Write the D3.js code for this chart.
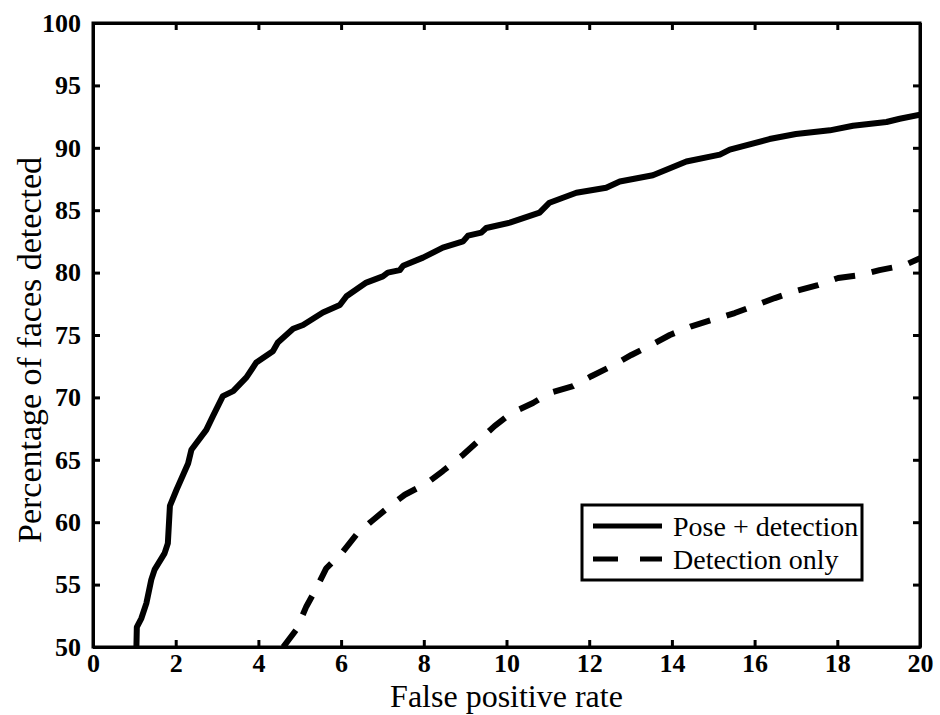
<!DOCTYPE html>
<html>
<head>
<meta charset="utf-8">
<script src="https://cdn.jsdelivr.net/npm/d3@7"></script>
<style>
  body { margin: 0; background: #fff; }
  svg { display: block; }
  svg text { font-family: "Liberation Serif", "Times New Roman", Times, "DejaVu Serif", serif; fill: #000; }
  .axis text { font-weight: bold; font-size: 26px; }
  .axis path, .axis line { stroke: #000; stroke-width: 3; }
  .title { font-size: 32px; }
  .legend-text { font-size: 28px; }
</style>
</head>
<body>
<div id="chart"></div>
<script>
// values
const poseX = [1.05, 1.06, 1.17, 1.29, 1.41, 1.49, 1.73, 1.81, 1.86, 2.02, 2.18, 2.30, 2.38, 2.74, 2.9, 3.14, 3.39, 3.71, 3.95, 4.35, 4.47, 4.84, 5.08, 5.56, 5.97, 6.13, 6.61, 7.01, 7.13, 7.42, 7.5, 7.98, 8.46, 8.95, 9.07, 9.39, 9.51, 10.08, 10.8, 11.04, 11.69, 12.41, 12.74, 13.54, 14.35, 15.16, 15.4, 16.36, 17.0, 17.82, 18.38, 19.19, 19.51, 20.0];
const poseY = [50.0, 51.6, 52.3, 53.5, 55.4, 56.2, 57.5, 58.3, 61.3, 62.6, 63.8, 64.7, 65.8, 67.4, 68.5, 70.1, 70.5, 71.6, 72.8, 73.7, 74.4, 75.5, 75.8, 76.8, 77.4, 78.1, 79.2, 79.7, 80.0, 80.2, 80.55, 81.2, 82.0, 82.5, 82.96, 83.2, 83.57, 84.0, 84.8, 85.6, 86.4, 86.8, 87.3, 87.8, 88.9, 89.45, 89.85, 90.7, 91.1, 91.4, 91.77, 92.07, 92.33, 92.65];

const detX = [4.6, 4.92, 5.16, 5.4, 5.64, 6.01, 6.37, 6.73, 7.18, 7.54, 8.06, 8.46, 8.95, 9.71, 10.12, 10.64, 11.04, 11.61, 12.05, 12.54, 13.02, 13.5, 13.95, 14.47, 14.96, 15.52, 16.0, 16.49, 16.97, 17.53, 18.02, 18.54, 19.02, 19.63, 20.0];
const detY = [50.0, 51.4, 53.25, 54.7, 56.3, 57.5, 59.0, 60.06, 61.3, 62.2, 63.1, 64.1, 65.4, 67.7, 68.75, 69.55, 70.35, 70.9, 71.7, 72.5, 73.4, 74.2, 75.0, 75.7, 76.2, 76.76, 77.35, 77.96, 78.5, 79.0, 79.57, 79.8, 80.2, 80.6, 81.15];

const xTicks = d3.range(0, 21, 2);
const yTicks = d3.range(50, 101, 5);
const seriesNames = ["Pose + detection", "Detection only"];

const width = 940, height = 715;
const margin = ({top: 23, right: 20, bottom: 68, left: 93});

const svg = d3.select("#chart").append("svg")
    .attr("width", width)
    .attr("height", height);

let x = d3.scaleLinear().domain([0, 20]).range([margin.left, width - margin.right]);
let y = d3.scaleLinear().domain([50, 100]).range([height - margin.bottom, margin.top]);

let line = d3.line()
    .x(d => x(d[0]))
    .y(d => y(d[1]));

let series = [
    {name: seriesNames[0], pts: poseX.map((v, i) => [v, poseY[i]]), dash: null},
    {name: seriesNames[1], pts: detX.map((v, i) => [v, detY[i]]), dash: "21,17"}
];

svg.append("defs").append("clipPath").attr("id", "clip")
    .append("rect")
    .attr("x", x(0)).attr("y", y(100))
    .attr("width", x(20) - x(0)).attr("height", y(50) - y(100));

svg.selectAll("path.curve")
    .data(series)
    .enter().append("path")
    .attr("class", "curve")
    .attr("clip-path", "url(#clip)")
    .attr("d", d => line(d.pts))
    .attr("fill", "none")
    .attr("stroke", "#000")
    .attr("stroke-width", 6)
    .attr("stroke-linejoin", "round")
    .attr("stroke-dasharray", d => d.dash);

// axes, ticks pointing inward on all four sides
svg.append("g").attr("class", "axis")
    .attr("transform", `translate(0,${y(50)})`)
    .call(d3.axisBottom(x).tickValues(xTicks).tickSizeInner(-7).tickSizeOuter(0).tickPadding(7))
    .selectAll("text").attr("dy", "0.71em");

svg.append("g").attr("class", "axis")
    .attr("transform", `translate(0,${y(100)})`)
    .call(d3.axisTop(x).tickValues(xTicks).tickSizeInner(-7).tickSizeOuter(0).tickFormat(""));

svg.append("g").attr("class", "axis")
    .attr("transform", `translate(${x(0)},0)`)
    .call(d3.axisLeft(y).tickValues(yTicks).tickSizeInner(-7).tickSizeOuter(0).tickPadding(12));

svg.append("g").attr("class", "axis")
    .attr("transform", `translate(${x(20)},0)`)
    .call(d3.axisRight(y).tickValues(yTicks).tickSizeInner(-7).tickSizeOuter(0).tickFormat(""));

svg.selectAll(".axis .tick line").attr("stroke-width", 2);

// frame
svg.append("rect")
    .attr("x", x(0)).attr("y", y(100))
    .attr("width", x(20) - x(0)).attr("height", y(50) - y(100))
    .attr("fill", "none")
    .attr("stroke", "#000")
    .attr("stroke-width", 3);

// axis titles
svg.append("text")
    .attr("class", "title")
    .attr("x", (x(0) + x(20)) / 2)
    .attr("y", 707)
    .attr("text-anchor", "middle")
    .text("False positive rate");

svg.append("text")
    .attr("class", "title")
    .attr("transform", `translate(41,${(y(50) + y(100)) / 2 + 15}) rotate(-90)`)
    .attr("text-anchor", "middle")
    .style("font-size", "34px")
    .text("Percentage of faces detected");

// legend
let legend = svg.append("g").attr("transform", "translate(582,505)");

legend.append("rect")
    .attr("width", 280).attr("height", 75)
    .attr("fill", "#fff")
    .attr("stroke", "#000")
    .attr("stroke-width", 3);

legend.selectAll("line")
    .data(series)
    .enter().append("line")
    .attr("x1", 11).attr("x2", 80)
    .attr("y1", (d, i) => 21 + i * 33)
    .attr("y2", (d, i) => 21 + i * 33)
    .attr("stroke", "#000")
    .attr("stroke-width", 5)
    .attr("stroke-dasharray", d => d.dash ? "25,22" : null);

legend.selectAll("text")
    .data(series)
    .enter().append("text")
    .attr("class", "legend-text")
    .attr("x", 91)
    .attr("y", (d, i) => 21 + i * 33)
    .attr("dy", "0.35em")
    .text(d => d.name);
</script>
</body>
</html>
